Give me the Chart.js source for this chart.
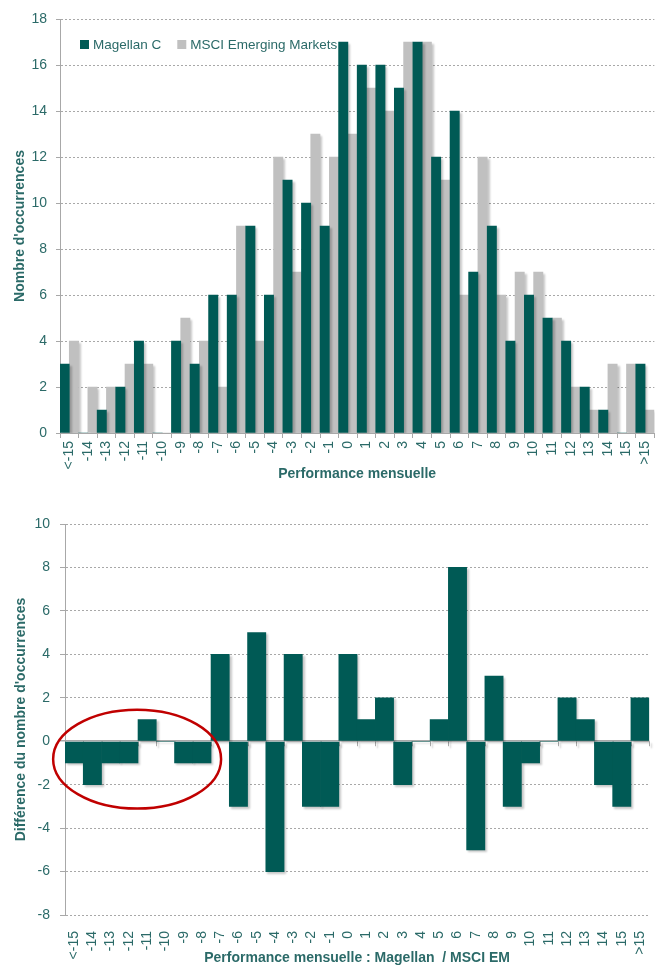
<!DOCTYPE html>
<html>
<head>
<meta charset="utf-8">
<script src="https://cdn.jsdelivr.net/npm/chart.js@4.4.0/dist/chart.umd.min.js"></script>
<style>
    body { margin: 0; background: #fff; }
    canvas { position: absolute; left: 0; }
</style>
</head>
<body>
<canvas id="histChart" width="665" height="490" style="top:0"></canvas>
<canvas id="diffChart" width="665" height="467" style="top:500px"></canvas>

<script>
// monthly performance buckets (%)
const categories = ['<-15', '-14', '-13', '-12', '-11', '-10', '-9', '-8', '-7', '-6', '-5', '-4', '-3', '-2', '-1',
    '0', '1', '2', '3', '4', '5', '6', '7', '8', '9', '10', '11', '12', '13', '14', '15', '>15'];

const magellan = [3, 0, 1, 2, 4, 0, 4, 3, 6, 6, 9, 6, 11, 10, 9,
    17, 16, 16, 15, 17, 12, 14, 7, 9, 4, 6, 5, 4, 2, 1, 0, 3];
const msciEm = [4, 2, 2, 3, 3, 0, 5, 4, 2, 9, 4, 12, 7, 13, 12,
    13, 15, 14, 17, 17, 11, 6, 12, 6, 7, 7, 5, 2, 1, 3, 3, 1];

// Magellan minus MSCI EM, per bucket
const difference = [-1, -2, -1, -1, 1, 0, -1, -1, 4, -3, 5, -6, 4, -3, -3,
    4, 1, 2, -2, 0, 1, 8, -5, 3, -3, -1, 0, 2, 1, -2, -3, 2];

const histTicks = { min: 0, max: 18, step: 2 };
const diffTicks = { min: -8, max: 10, step: 2 };

const TEAL = '#005a55';
const GREY = '#c0c0c0';
const TEXT = '#2b6a68';
const LINE = '#a8a8a8';
const FONT = "'Liberation Sans Narrow', 'Arial Narrow', 'Liberation Sans', Arial, sans-serif";

// soft drop shadow under the bars
const barShadow = {
    id: 'barShadow',
    beforeDatasetsDraw(chart) {
        const ctx = chart.ctx;
        ctx.save();
        ctx.shadowColor = 'rgba(0,0,0,0.22)';
        ctx.shadowBlur = 2;
        ctx.shadowOffsetX = 2;
        ctx.shadowOffsetY = 2;
    },
    afterDatasetsDraw(chart) {
        chart.ctx.restore();
    }
};

// legend drawn inside the plot, top left
const innerLegend = {
    id: 'innerLegend',
    afterDraw(chart) {
        const ctx = chart.ctx;
        const area = chart.chartArea;
        let x = area.left + 20;
        const y = area.top + 26;
        ctx.save();
        ctx.font = '13.5px ' + FONT;
        ctx.textBaseline = 'middle';
        chart.data.datasets.forEach(ds => {
            ctx.fillStyle = ds.backgroundColor;
            ctx.fillRect(x, y - 5, 9, 9);
            ctx.fillStyle = TEXT;
            ctx.fillText(ds.label, x + 13, y);
            x += 13 + ctx.measureText(ds.label).width + 16;
        });
        ctx.restore();
    }
};

// zero line tick marks and the highlight ring on the difference chart
const diffExtras = {
    id: 'diffExtras',
    beforeDatasetsDraw(chart) {
        const ctx = chart.ctx;
        const xs = chart.scales.x;
        const y0 = chart.scales.y.getPixelForValue(0);
        ctx.save();
        ctx.strokeStyle = LINE;
        ctx.lineWidth = 1;
        ctx.beginPath();
        for (let i = 0; i <= categories.length; i++) {
            const px = Math.round(xs.getPixelForValue(i - 0.5)) + 0.5;
            ctx.moveTo(px, y0);
            ctx.lineTo(px, y0 + 5);
        }
        ctx.stroke();
        ctx.restore();
    },
    afterDatasetsDraw(chart) {
        const ctx = chart.ctx;
        const xs = chart.scales.x;
        const ys = chart.scales.y;
        const left = xs.getPixelForValue(-1.15);
        const right = xs.getPixelForValue(8.05);
        const top = ys.getPixelForValue(1.45);
        const bottom = ys.getPixelForValue(-3.1);
        ctx.save();
        ctx.strokeStyle = '#c00000';
        ctx.lineWidth = 2.5;
        ctx.beginPath();
        ctx.ellipse((left + right) / 2, (top + bottom) / 2, (right - left) / 2, (bottom - top) / 2, 0, 0, Math.PI * 2);
        ctx.stroke();
        ctx.restore();
    }
};

const tickFont = { family: FONT, size: 14 };
const titleFont = { family: FONT, size: 14, weight: 'bold' };

new Chart(document.getElementById('histChart'), {
    type: 'bar',
    data: {
        labels: categories,
        datasets: [
            { label: 'Magellan C', data: magellan, backgroundColor: TEAL },
            { label: 'MSCI Emerging Markets', data: msciEm, backgroundColor: GREY }
        ]
    },
    options: {
        responsive: false,
        animation: false,
        layout: { padding: { top: 19, right: 8, left: 0, bottom: 0 } },
        datasets: { bar: { barPercentage: 1, categoryPercentage: 1 } },
        plugins: { legend: { display: false }, tooltip: { enabled: false } },
        scales: {
            x: {
                grid: { drawOnChartArea: false, color: LINE, tickLength: 5 },
                border: { color: LINE },
                ticks: { color: TEXT, font: tickFont, minRotation: 90, maxRotation: 90, autoSkip: false, padding: 3 },
                title: { display: true, text: 'Performance mensuelle', color: TEXT, font: titleFont, padding: { top: 0, bottom: 7 } },
                afterFit(s) { s.height = 57; }
            },
            y: {
                min: histTicks.min,
                max: histTicks.max,
                ticks: { stepSize: histTicks.step, color: TEXT, font: tickFont, padding: 9 },
                grid: { color: LINE, tickLength: 4 },
                border: { color: LINE, dash: [2, 2] },
                title: { display: true, text: "Nombre d'occurrences", color: TEXT, font: titleFont, padding: { top: 12, bottom: 0 } },
                afterFit(s) { s.width = 60; }
            }
        }
    },
    plugins: [barShadow, innerLegend]
});

new Chart(document.getElementById('diffChart'), {
    type: 'bar',
    data: {
        labels: categories,
        datasets: [
            { label: 'Différence', data: difference, backgroundColor: TEAL }
        ]
    },
    options: {
        responsive: false,
        animation: false,
        layout: { padding: { top: 24, right: 9, left: 0, bottom: 0 } },
        datasets: { bar: { barPercentage: 1, categoryPercentage: 1 } },
        plugins: { legend: { display: false }, tooltip: { enabled: false } },
        scales: {
            x: {
                grid: { display: false },
                border: { display: false },
                ticks: { color: TEXT, font: tickFont, minRotation: 90, maxRotation: 90, autoSkip: false, padding: 8 },
                title: { display: true, text: 'Performance mensuelle : Magellan  / MSCI EM', color: TEXT, font: titleFont, padding: { top: 0, bottom: 0 } },
                afterFit(s) { s.height = 52; }
            },
            y: {
                min: diffTicks.min,
                max: diffTicks.max,
                ticks: { stepSize: diffTicks.step, color: TEXT, font: tickFont, padding: 10 },
                grid: {
                    color: LINE,
                    tickColor: LINE,
                    tickLength: 5,
                    lineWidth: c => (c.tick && c.tick.value === 0 ? 1.5 : 1)
                },
                border: { color: LINE, dash: c => (c.tick && c.tick.value === 0 ? [] : [2, 2]) },
                title: { display: true, text: "Différence du nombre d'occurrences", color: TEXT, font: titleFont, padding: { top: 13, bottom: 0 } },
                afterFit(s) { s.width = 65; }
            }
        }
    },
    plugins: [barShadow, diffExtras]
});
</script>
</body>
</html>
